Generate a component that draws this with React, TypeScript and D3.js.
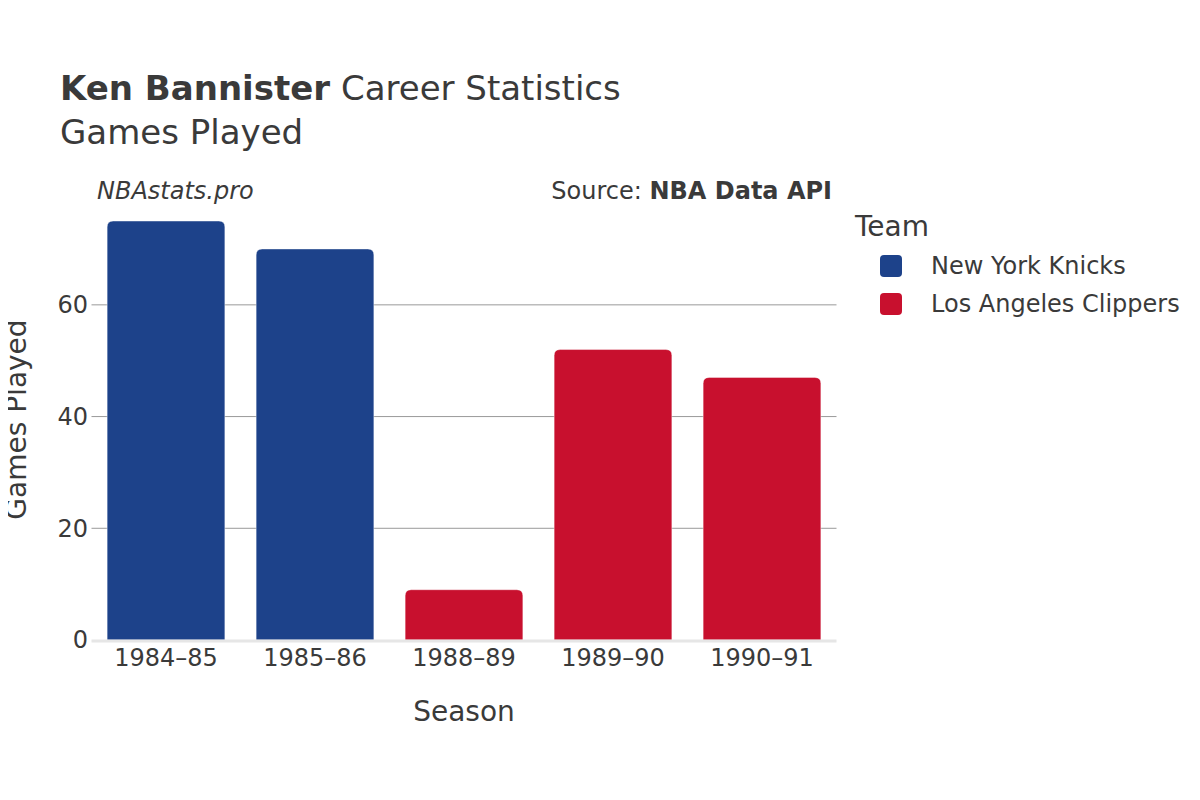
import React from "react";
import * as d3 from "d3";

const seasons = ["1984–85", "1985–86", "1988–89", "1989–90", "1990–91"];
const gamesPlayed = [75, 70, 9, 52, 47];
const teams = ["NYK", "NYK", "LAC", "LAC", "LAC"];
const teamNames = ["New York Knicks", "Los Angeles Clippers"];
const teamCodes = ["NYK", "LAC"];
const teamColors = ["#1D428A", "#C8102E"];
const yTicks = [0, 20, 40, 60];

const W = 1200;
const H = 800;
const margin = { left: 91.5, right: 836.5, top: 199, bottom: 640 };
const font = "'DejaVu Sans', sans-serif";
const textColor = "#3a3a3a";

// bar path with rounded top corners
const barPath = (x: number, y: number, w: number, h: number, r: number) => {
  const rr = Math.min(r, h / 2, w / 2);
  return `M${x},${y + h}V${y + rr}Q${x},${y} ${x + rr},${y}H${x + w - rr}Q${x + w},${y} ${x + w},${y + rr}V${y + h}Z`;
};

const App = () => {
  const x = d3
    .scaleBand()
    .domain(seasons)
    .range([margin.left, margin.right])
    .paddingInner(0.21)
    .paddingOuter(0.105);
  const y = d3.scaleLinear().domain([0, 78.95]).range([margin.bottom, margin.top]);
  const color = d3.scaleOrdinal<string, string>().domain(teamCodes).range(teamColors);

  return (
    <svg width={W} height={H} style={{ display: "block", margin: -8, background: "#fff" }} fontFamily={font}>
      {/* title */}
      <text x={60} y={100} fontSize={34} fill={textColor}>
        <tspan fontWeight="bold">Ken Bannister</tspan> Career Statistics
      </text>
      <text x={60} y={144} fontSize={34} fill={textColor}>Games Played</text>
      <text x={97} y={199} fontSize={24} fontStyle="italic" fill={textColor}>NBAstats.pro</text>
      <text x={832} y={199} fontSize={24} textAnchor="end" fill={textColor}>
        Source: <tspan fontWeight="bold">NBA Data API</tspan>
      </text>

      {/* grid */}
      {yTicks.filter((t) => t > 0).map((t) => (
        <line key={t} x1={margin.left} x2={margin.right} y1={y(t)} y2={y(t)} stroke="#999" strokeWidth={1} />
      ))}
      {yTicks.map((t) => (
        <text key={t} x={90} y={y(t)} dy="0.35em" dx={-2} fontSize={24} textAnchor="end" fill={textColor}>{t}</text>
      ))}

      {/* bars */}
      {seasons.map((s, i) => {
        const x0 = x(s)!;
        const y0 = y(gamesPlayed[i]);
        return (
          <path
            key={s}
            d={barPath(x0, y0, x.bandwidth(), y(0) - y0, 6)}
            fill={color(teams[i])}
            stroke="#ffffff"
            strokeOpacity={0.4}
            strokeWidth={1}
          />
        );
      })}
      <line x1={margin.left} x2={margin.right} y1={y(0) + 1} y2={y(0) + 1} stroke="#e6e6e6" strokeWidth={3} />

      {seasons.map((s) => (
        <text key={s} x={x(s)! + x.bandwidth() / 2} y={666} fontSize={24} textAnchor="middle" fill={textColor}>{s}</text>
      ))}

      {/* axis titles */}
      <text x={(margin.left + margin.right) / 2} y={721} fontSize={28} textAnchor="middle" fill={textColor}>Season</text>
      <text transform={`translate(26,${(margin.top + margin.bottom) / 2 + 0}) rotate(-90)`} fontSize={28} textAnchor="middle" fill={textColor}>Games Played</text>

      {/* legend */}
      <text x={855} y={236} fontSize={28} fill={textColor}>Team</text>
      {teamNames.map((n, i) => (
        <g key={n} transform={`translate(880,${255 + i * 38})`}>
          <rect width={22} height={22} rx={4} fill={teamColors[i]} />
          <text x={51} y={11} dy="0.35em" fontSize={24} fill={textColor}>{n}</text>
        </g>
      ))}
    </svg>
  );
};

export default App;
